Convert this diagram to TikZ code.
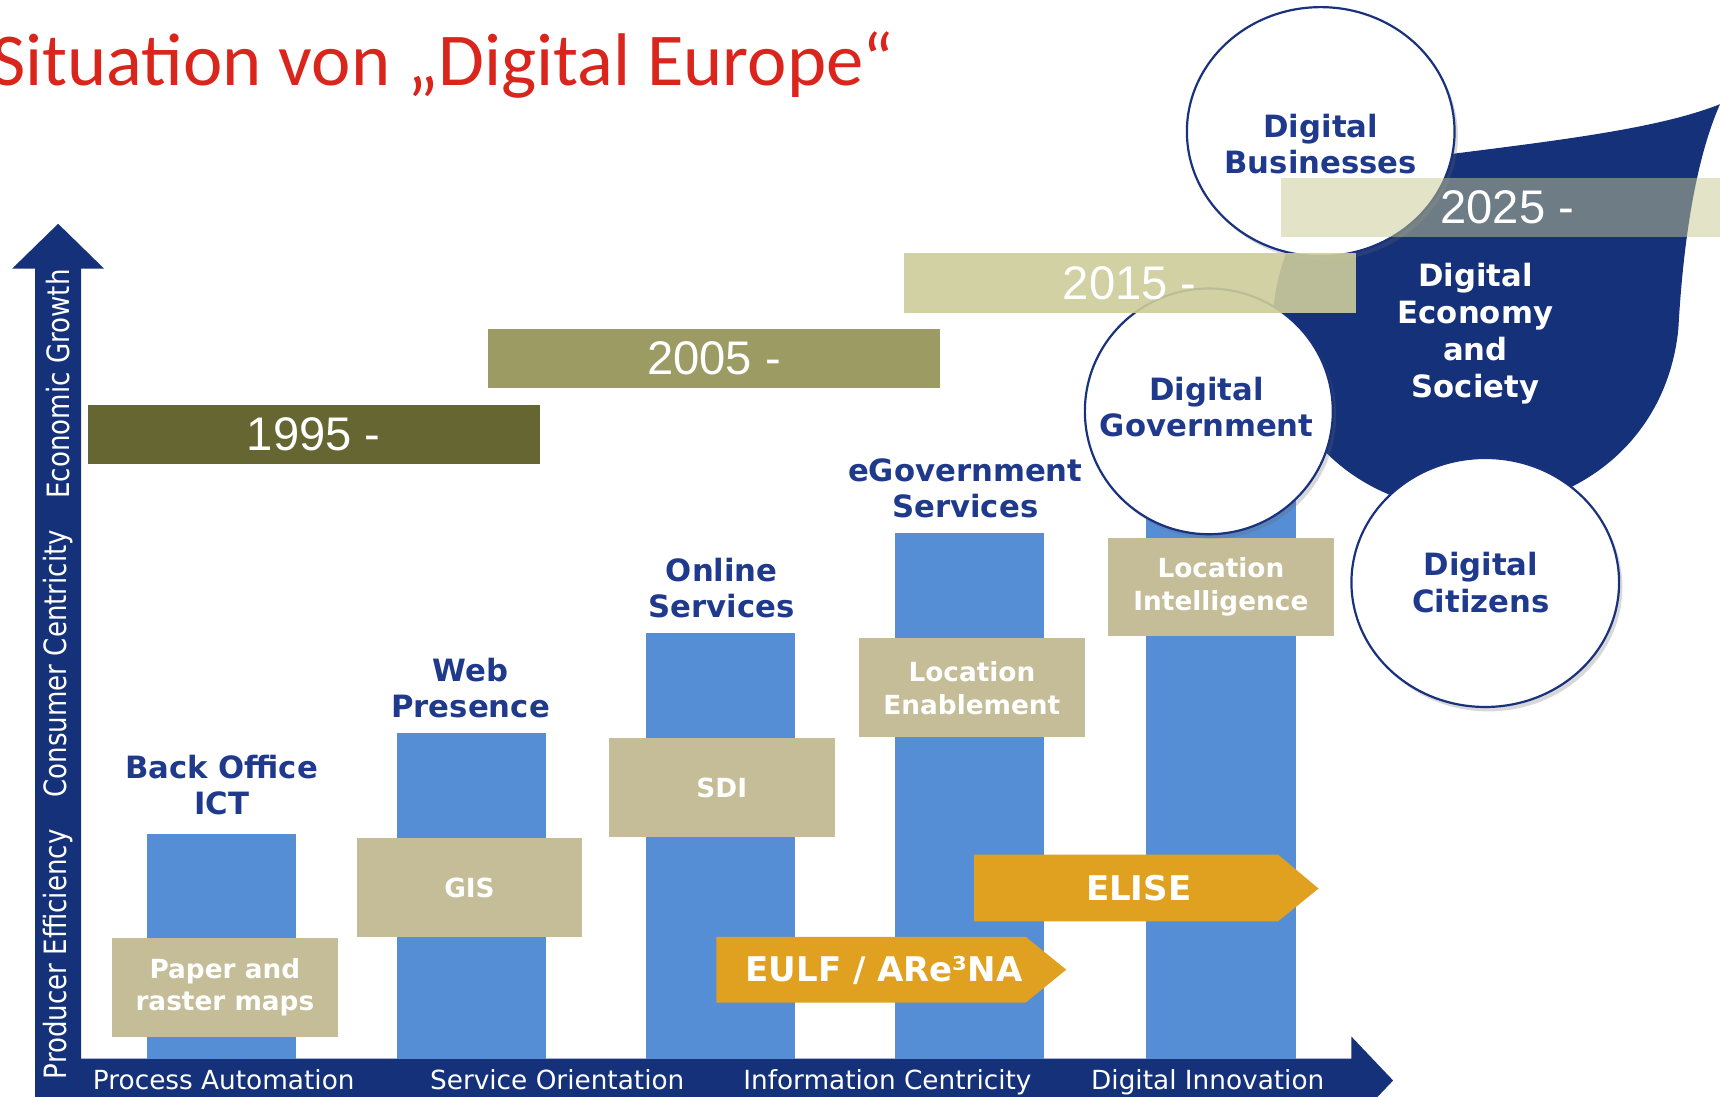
\documentclass[tikz,border=0pt]{standalone}
\usepackage{fontspec}
\setmainfont{DejaVu Sans}
\newfontfamily\titlefont{Carlito}
\newfontfamily\yearfont{Liberation Sans}
\newfontfamily\condfont[FakeStretch=0.85]{DejaVu Sans}
\usetikzlibrary{shapes.geometric,shadows}
\definecolor{navy}{RGB}{20,49,122}
\definecolor{lblue}{RGB}{31,58,140}
\definecolor{barblue}{RGB}{85,142,213}
\definecolor{khaki}{RGB}{196,189,151}
\definecolor{orng}{RGB}{224,160,32}
\definecolor{yA}{RGB}{102,102,51}
\definecolor{yB}{RGB}{156,155,99}
\definecolor{yC}{RGB}{205,205,155}
\definecolor{yD}{RGB}{200,200,146}
\definecolor{titlered}{RGB}{218,37,29}
\definecolor{cborder}{RGB}{25,50,125}
\begin{document}
\begin{tikzpicture}[x=1pt,y=-1pt,
  bluebar/.style={fill=barblue, draw=none, minimum width=136pt, anchor=south, inner sep=0pt, outer sep=0pt},
  kbox/.style={fill=khaki, minimum width=206pt, minimum height=90pt, text=white, font=\bfseries\fontsize{24}{30}\selectfont, align=center, inner sep=0pt},
  blabel/.style={text=lblue, font=\bfseries\fontsize{28}{33}\selectfont, align=center, inner sep=0pt},
  circ/.style={ellipse, draw=cborder, line width=2pt, fill=white, inner sep=0pt,
    drop shadow={shadow xshift=3pt, shadow yshift=-4pt, opacity=0.25, fill=black!60}},
  yearbar/.style={minimum width=412pt, minimum height=54pt, inner sep=0pt, text=white, text opacity=1,
    font=\yearfont\fontsize{43}{43}\selectfont},
  axlabel/.style={text=white, font=\fontsize{24}{24}\selectfont, inner sep=0pt, anchor=base},
  vlabel/.style={text=white, rotate=90, font=\condfont\fontsize{28}{28}\selectfont, inner sep=0pt},
  orarrow/.style={fill=orng, draw=none},
  olabel/.style={text=white, font=\bfseries\fontsize{31}{31}\selectfont, inner sep=0pt}
]
\clip (0,0) rectangle (1568,1000);
\fill[white] (0,0) rectangle (1568,1000);

% title
\node[anchor=base west, inner sep=0pt, text=titlered, font=\titlefont\fontsize{68}{68}\selectfont] (title) at (-8,78) {Situation von „Digital Europe“};

% axes
\fill[navy] (32,1010) -- (32,245) -- (11,245) -- (53,204) -- (95,245) -- (74,245) -- (74,965) -- cycle;
\fill[navy] (32,965) -- (1232,965) -- (1232,945) -- (1270,985) -- (1232,1025) -- (1232,1010) -- (32,1010) -- cycle;

\node[vlabel] (v1) at (53,870) {Producer Efficiency};
\node[vlabel] (v2) at (53,605) {Consumer Centricity};
\node[vlabel] (v3) at (53,350) {Economic Growth};

\node[axlabel] (h1) at (204,993) {Process Automation};
\node[axlabel] (h2) at (508,993) {Service Orientation};
\node[axlabel] (h3) at (809,993) {Information Centricity};
\node[axlabel] (h4) at (1101,993) {Digital Innovation};

% blue bars
\node[bluebar, minimum height=205pt] (b1) at (202,965) {};
\node[bluebar, minimum height=297pt] (b2) at (430,965) {};
\node[bluebar, minimum height=388pt] (b3) at (657,965) {};
\node[bluebar, minimum height=479pt] (b4) at (884,965) {};
\node[bluebar, minimum height=570pt] (b5) at (1113,965) {};

% khaki boxes
\node[kbox] (k1) at (205,900) {Paper and\\raster maps};
\node[kbox] (k2) at (428,809) {GIS};
\node[kbox] (k3) at (658,718) {SDI};
\node[kbox] (k4) at (886,627) {Location\\Enablement};
\node[kbox] (k5) at (1113,535) {Location\\Intelligence};

% orange arrows
\fill[orarrow] (653,854) -- (935,854) -- (972,884) -- (935,914) -- (653,914) -- cycle;
\node[olabel] (eulf) at (806,885) {EULF / ARe³NA};
\fill[orarrow] (888,779) -- (1165,779) -- (1202,810) -- (1165,840) -- (888,840) -- cycle;
\node[olabel] (elise) at (1038,810) {ELISE};

% blue labels
\node[blabel] (l1) at (202,716) {Back Office\\ICT};
\node[blabel] (l2) at (429,627) {Web\\Presence};
\node[blabel] (l3) at (658,536) {Online\\Services};
\node[blabel] (l4) at (880,445) {eGovernment\\Services};

% navy shape
\fill[navy] (1250,150) .. controls (1380,132) and (1500,122) .. (1568,95)
  .. controls (1548,140) and (1535,210) .. (1530,300)
  .. controls (1520,400) and (1440,465) .. (1340,465)
  .. controls (1230,465) and (1160,380) .. (1160,300)
  .. controls (1160,230) and (1195,170) .. (1250,150) -- cycle;

% circles
\node[circ, minimum width=244pt, minimum height=227pt] (cbus) at (1204,120) {};
\node[circ, minimum width=226pt, minimum height=224pt] (cgov) at (1102,375) {};
\node[circ, minimum width=244pt, minimum height=227pt] (ccit) at (1354,531) {};

% year bars
\node[yearbar, fill=yA] (y1995) at (286,396) {1995 -};
\node[yearbar, fill=yB] (y2005) at (651,327) {2005 -};
\node[yearbar, fill=yC, fill opacity=0.9] (y2015) at (1030,258) {2015 -};
\node[yearbar, fill=yD, fill opacity=0.5] (y2025) at (1374,189) {2025 -};

% circle texts
\node[blabel] (tbus) at (1204,131) {Digital\\Businesses};
\node[blabel] (tgov) at (1100,371) {Digital\\Government};
\node[blabel] (tcit) at (1350,531) {Digital\\Citizens};
\node[blabel, text=white, font=\bfseries\fontsize{28}{33.7}\selectfont] (tdes) at (1345,304) {Digital\\Economy\\and\\Society};
\end{tikzpicture}
\end{document}
